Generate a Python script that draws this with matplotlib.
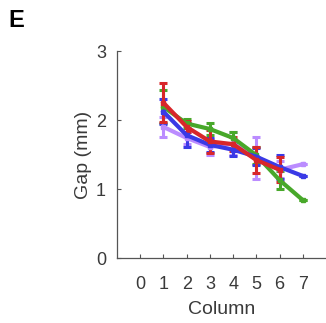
import matplotlib
matplotlib.use('Agg')
import matplotlib.pyplot as plt

plt.rcParams['font.family'] = ['Liberation Sans', 'DejaVu Sans']

# dados
col_purple = [1, 2, 3, 4, 5, 6, 7]
gap_purple = [1.90, 1.74, 1.61, 1.66, 1.45, 1.28, 1.36]
err_purple = [0.15, 0.08, 0.12, 0.17, 0.30, 0.12, 0.0]

col_green = [1, 2, 3, 4, 5, 6, 7]
gap_green = [2.19, 1.95, 1.87, 1.74, 1.49, 1.13, 0.84]
err_green = [0.24, 0.07, 0.08, 0.08, 0.12, 0.13, 0.0]

col_blue = [1, 2, 3, 4, 5, 6, 7]
gap_blue = [2.12, 1.78, 1.64, 1.57, 1.47, 1.32, 1.19]
err_blue = [0.18, 0.17, 0.10, 0.09, 0.12, 0.17, 0.0]

col_red = [1, 2, 3, 4, 5, 6]
gap_red = [2.25, 1.90, 1.69, 1.65, 1.42, 1.28]
err_red = [0.28, 0.08, 0.17, 0.10, 0.19, 0.18]

xticks = [0, 1, 2, 3, 4, 5, 6, 7]
yticks = [0, 1, 2, 3]

fig = plt.figure(figsize=(3.26, 3.23), dpi=100)
ax = fig.add_axes([0.359, 0.201, 0.641, 0.641])

series = [
    (col_purple, gap_purple, err_purple, '#bb8cff'),
    (col_green, gap_green, err_green, '#48a82a'),
    (col_blue, gap_blue, err_blue, '#3a3ae6'),
    (col_red, gap_red, err_red, '#d8262a'),
]
for x, y, e, c in series:
    ax.errorbar(x, y, yerr=e, color=c, lw=3, marker='s', ms=3.5,
                elinewidth=2.2, capsize=3, capthick=2.2)

ax.set_xlim(-1, 8)
ax.set_ylim(0, 3)
ax.set_xticks(xticks)
ax.set_yticks(yticks)
for s in ['top', 'right']:
    ax.spines[s].set_visible(False)
for s in ['left', 'bottom']:
    ax.spines[s].set_color('#555555')
    ax.spines[s].set_linewidth(0.9)
ax.tick_params(direction='in', length=3, width=0.8, color='#555555',
               labelsize=13, labelcolor='#3a3a3a')
ax.tick_params(axis='x', pad=13)
ax.tick_params(axis='y', pad=8)
ax.set_xlabel('Column', fontsize=14, color='#3a3a3a', labelpad=6)
ax.set_ylabel('Gap (mm)', fontsize=14, color='#3a3a3a', labelpad=3)

fig.text(0.025, 0.915, 'E', fontsize=17, fontweight='bold')

fig.savefig('out.png', dpi=100)
